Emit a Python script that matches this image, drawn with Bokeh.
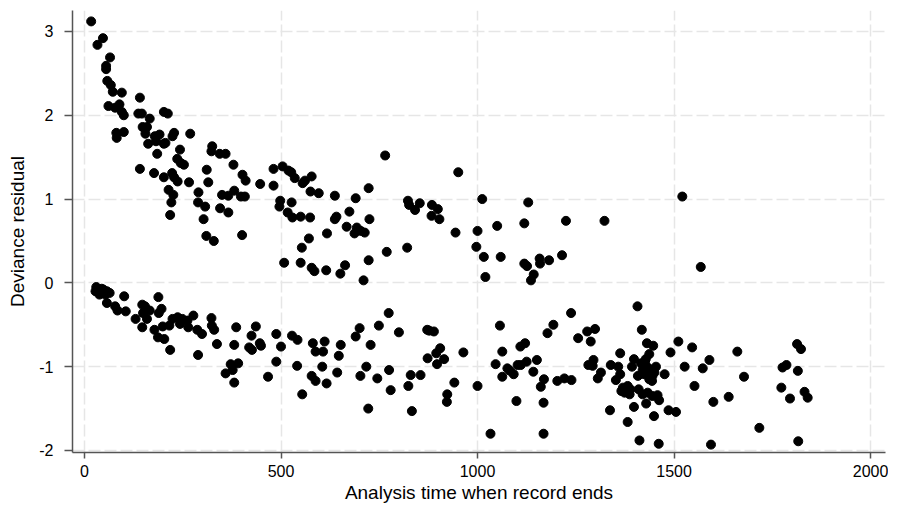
from bokeh.plotting import figure
from bokeh.models import Range1d, FixedTicker
from bokeh.embed import file_html
from bokeh.resources import INLINE

# Upper band of residuals (events)
upper_time = [17, 47, 33, 65, 55, 55, 58, 67, 72, 95, 61, 78, 89, 95, 100, 141, 137, 146, 166, 202,
              212, 81, 82, 100, 148, 159, 155, 162, 179, 191, 182, 202, 206, 185, 224, 228, 269, 243,
              236, 245, 253, 141, 177, 202, 223, 228, 237, 266, 214, 226, 221, 218, 290, 289, 307,
              303, 311, 315, 325, 323, 310, 329,
              344, 359, 379, 402, 410, 447, 481, 481, 504, 519, 526, 535, 555, 561, 578, 575, 596,
              637, 690, 723, 350, 366, 381, 398, 408, 345, 366, 401, 498, 496, 527, 517, 529, 550,
              574, 571, 617, 641, 637, 674, 667, 693, 703, 713, 687, 725,
              765, 951, 823, 826, 841, 853, 884, 899, 883, 903, 1012, 1129, 944, 1000, 1050, 1119,
              553, 508, 550, 578, 585, 615, 651, 663, 710, 723,
              769, 821, 997, 1016, 1020, 1059, 1119, 1126, 1143, 1136, 1158, 1159,
              1182, 1215, 1568, 1225, 1323, 1521]
upper_resid = [3.12, 2.92, 2.84, 2.69, 2.59, 2.55, 2.41, 2.36, 2.28, 2.27, 2.11, 2.09, 2.13, 2.04, 2.00,
               2.21, 2.02, 2.02, 1.96, 2.04, 2.02, 1.79, 1.73, 1.80, 1.86, 1.86, 1.78, 1.66, 1.75, 1.77,
               1.69, 1.66, 1.67, 1.54, 1.75, 1.79, 1.78, 1.59, 1.48, 1.43, 1.41, 1.36, 1.31, 1.26, 1.31,
               1.26, 1.21, 1.20, 1.11, 1.05, 0.96, 0.81, 1.08, 0.96, 0.91, 0.76, 1.35, 1.20, 1.63, 1.57,
               0.56, 0.50,
               1.54, 1.54, 1.41, 1.29, 1.22, 1.18, 1.36, 1.16, 1.39, 1.34, 1.32, 1.25, 1.19, 1.22, 1.27,
               1.09, 1.07, 1.04, 1.01, 1.13, 1.05, 1.04, 1.10, 1.03, 1.03, 0.89, 0.84, 0.57, 0.98, 0.91,
               0.96, 0.84, 0.78, 0.79, 0.78, 0.53, 0.59, 0.79, 0.76, 0.85, 0.67, 0.66, 0.62, 0.60, 0.59,
               0.76,
               1.52, 1.32, 0.98, 0.93, 0.87, 0.95, 0.93, 0.88, 0.80, 0.76, 1.00, 0.96, 0.60, 0.62, 0.68,
               0.71,
               0.42, 0.24, 0.24, 0.18, 0.14, 0.15, 0.11, 0.21, 0.03, 0.27,
               0.37, 0.42, 0.43, 0.31, 0.07, 0.31, 0.23, 0.20, 0.10, 0.03, 0.29, 0.23,
               0.27, 0.33, 0.19, 0.74, 0.74, 1.03]

# Lower band of residuals (censored)
lower_time = [30, 36, 28, 40, 48, 57, 64, 38, 53, 44, 57, 78, 84, 105, 101, 130, 147, 154, 149, 166,
              159, 147, 188, 189, 196, 178, 187, 203, 199, 216, 218, 224, 237, 243, 249, 264, 262, 277,
              287, 299, 289, 323, 324, 330, 337,
              386, 436, 425, 381, 419, 426, 446, 449, 488, 500, 528, 542, 488, 391, 372, 377, 359, 381,
              467, 541, 554, 581, 611, 588, 607, 652, 647, 605, 578, 588, 616, 643, 690, 700, 728, 717,
              702, 722,
              774, 749, 800, 872, 877, 889, 905, 895, 873, 915, 897, 964, 745, 775, 779, 830, 855, 824,
              941, 923, 922, 833, 1000, 1033, 1057, 1063, 1046, 1063, 1076, 1083, 1092, 1102, 1110,
              1125, 1109, 1121, 1151, 1142, 1099, 1161, 1169, 1168, 1168,
              1238, 1193, 1178, 1203, 1221, 1239, 1256, 1279, 1288, 1299, 1295, 1282, 1293, 1314, 1306,
              1337, 1339, 1358, 1363, 1363, 1352, 1407, 1418, 1431, 1447, 1437, 1398, 1393, 1416, 1426,
              1433, 1420, 1441, 1454, 1445, 1424, 1408, 1437, 1450, 1428, 1444, 1476, 1382, 1370, 1389,
              1366, 1374, 1387, 1410, 1420, 1433, 1445, 1458, 1462, 1398, 1429, 1449, 1382, 1412, 1461,
              1486, 1505, 1491, 1511, 1527, 1546, 1573, 1590, 1552, 1600, 1594,
              1661, 1678, 1639, 1717, 1813, 1823, 1776, 1786, 1815, 1773, 1795, 1832, 1840, 1816]
lower_resid = [-0.05, -0.08, -0.10, -0.10, -0.08, -0.10, -0.12, -0.14, -0.14, -0.07, -0.24, -0.28, -0.33,
               -0.34, -0.16, -0.43, -0.26, -0.28, -0.36, -0.33, -0.43, -0.53, -0.17, -0.36, -0.31, -0.56,
               -0.65, -0.67, -0.52, -0.51, -0.80, -0.43, -0.41, -0.49, -0.43, -0.53, -0.45, -0.39, -0.56,
               -0.61, -0.86, -0.42, -0.51, -0.56, -0.73,
               -0.53, -0.52, -0.63, -0.74, -0.77, -0.80, -0.72, -0.75, -0.61, -0.76, -0.63, -0.68, -0.94,
               -0.96, -0.97, -1.04, -1.08, -1.19, -1.12, -0.99, -1.33, -0.72, -0.70, -0.82, -0.82, -0.74,
               -0.87, -1.00, -1.11, -1.17, -1.20, -1.07, -0.64, -0.54, -0.74, -1.00, -1.11, -1.50,
               -0.36, -0.51, -0.59, -0.56, -0.57, -0.58, -0.78, -0.84, -0.90, -0.91, -0.97, -0.83, -1.14,
               -1.04, -1.28, -1.10, -1.10, -1.23, -1.19, -1.33, -1.42, -1.53, -1.23, -1.80, -0.51, -0.82,
               -0.97, -1.12, -1.02, -1.05, -1.09, -0.98, -0.98, -0.94, -0.76, -0.72, -0.92, -1.06, -1.41,
               -1.24, -1.15, -1.43, -1.80,
               -0.36, -0.50, -0.60, -1.17, -1.14, -1.16, -0.66, -0.58, -0.70, -0.55, -0.92, -0.98, -0.99,
               -1.07, -1.14, -1.52, -0.98, -1.00, -0.84, -1.09, -1.16, -0.28, -0.56, -0.72, -0.75, -0.85,
               -0.91, -1.00, -0.96, -0.95, -1.01, -1.04, -1.05, -1.00, -1.11, -1.09, -1.11, -1.15, -1.07,
               -0.91, -1.17, -1.09, -1.23, -1.25, -1.27, -1.29, -1.31, -1.33, -1.27, -1.33, -1.31, -1.35,
               -1.34, -1.40, -1.48, -1.44, -1.59, -1.66, -1.88, -1.92, -1.52, -1.54, -0.83, -0.70, -1.00,
               -0.77, -1.02, -0.92, -1.23, -1.42, -1.93,
               -0.82, -1.12, -1.36, -1.73, -0.73, -0.79, -1.01, -0.98, -1.05, -1.25, -1.38, -1.30, -1.37,
               -1.89]

x_ticks = [0, 500, 1000, 1500, 2000]
y_ticks = [-2, -1, 0, 1, 2, 3]
y_tick_labels = {t: str(t) for t in y_ticks}

FONT = "Liberation Sans"
AXIS_COLOR = "#555555"

p = figure(width=888, height=507, output_backend="svg", toolbar_location=None,
           x_range=Range1d(-30.5, 2038), y_range=Range1d(-2.024, 3.25),
           min_border_left=72, min_border_right=3, min_border_top=10, min_border_bottom=55,
           background_fill_color="white", border_fill_color="white")
p.outline_line_color = None

p.scatter(upper_time, upper_resid, size=9, color="black")
p.scatter(lower_time, lower_resid, size=9, color="black")

p.xaxis.ticker = FixedTicker(ticks=x_ticks, minor_ticks=[])
p.yaxis.ticker = FixedTicker(ticks=y_ticks, minor_ticks=[])
p.yaxis.major_label_overrides = y_tick_labels

for ax in (p.xaxis[0], p.yaxis[0]):
    ax.axis_line_color = AXIS_COLOR
    ax.axis_line_width = 1.5
    ax.major_tick_line_color = AXIS_COLOR
    ax.major_tick_line_width = 1.5
    ax.major_tick_in = 0
    ax.minor_tick_line_color = None
    ax.major_label_text_font = FONT
    ax.major_label_text_font_size = "16px"
    ax.major_label_text_color = "black"
    ax.axis_label_text_font = FONT
    ax.axis_label_text_font_size = "19px"
    ax.axis_label_text_font_style = "normal"
    ax.axis_label_text_color = "black"

p.xaxis.axis_label = "Analysis time when record ends"
p.yaxis.axis_label = "Deviance residual"
p.xaxis.major_tick_out = 6
p.yaxis.major_tick_out = 8
p.xaxis.major_label_standoff = 6
p.xaxis.axis_label_standoff = 2
p.yaxis.major_label_standoff = 11
p.yaxis.axis_label_standoff = 8

for g in (p.xgrid[0], p.ygrid[0]):
    g.grid_line_color = "#e6e6e6"
    g.grid_line_width = 1.5
    g.grid_line_dash = "12 4"

open("out.html", "w").write(file_html(p, INLINE))
